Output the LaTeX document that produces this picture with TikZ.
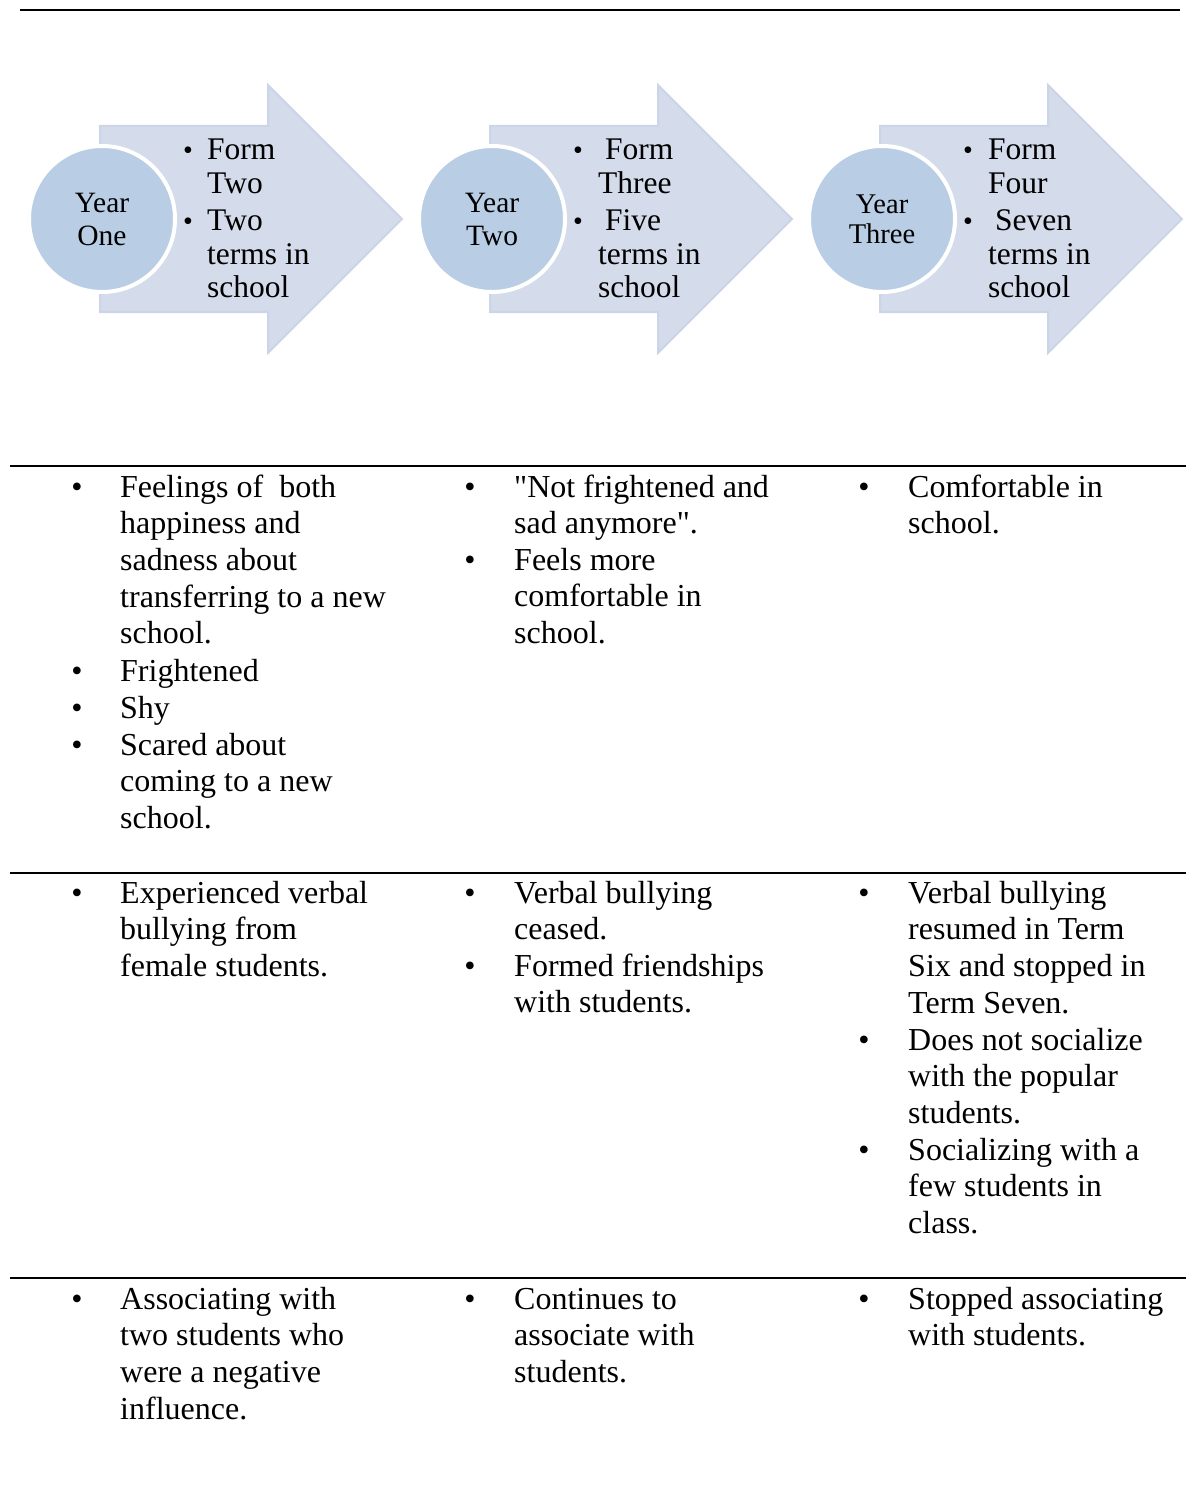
\documentclass[tikz,border=0pt]{standalone}
\usepackage{fontspec}
\setmainfont{Liberation Serif}[Ligatures=TeXOff]
\definecolor{arrowfill}{HTML}{D4DBEA}
\definecolor{arrowedge}{HTML}{CCD4E7}
\definecolor{circfill}{HTML}{B9CDE5}
\begin{document}
\begin{tikzpicture}[x=1pt,y=-1pt,
  arrowshape/.style={fill=arrowfill, draw=arrowedge, line width=2pt, line join=miter},
  yearcirc/.style={circle, fill=circfill, draw=white, line width=4pt, minimum size=146pt, inner sep=0pt, align=center, font=\fontsize{29.5}{33}\selectfont},
  arrtext/.style={anchor=base west, inner sep=0pt, align=left, font=\fontsize{31.5}{33.5}\selectfont},
  arrbullet/.style={anchor=base, inner sep=0pt, font=\fontsize{28}{33}\selectfont},
  celltext/.style={anchor=base west, inner sep=0pt, align=left, font=\fontsize{32}{36.7}\selectfont},
  cellbullet/.style={anchor=base, inner sep=0pt, font=\fontsize{32}{36.7}\selectfont},
  rule/.style={line width=1.8pt}]
\useasboundingbox (0,0) rectangle (1186,1495);

% top rule
\coordinate (t1) at (20,10);
\coordinate (t2) at (1180,10);
\draw[rule] (t1) -- (t2);

% arrows
\foreach \dx in {0, 390, 780}{
  \draw[arrowshape] (100+\dx,126) -- (268+\dx,126) -- (268+\dx,85) -- (402+\dx,219) -- (268+\dx,353) -- (268+\dx,312) -- (100+\dx,312) -- cycle;
}

% circles
\node[yearcirc] (y1) at (102,219) {Year\\One};
\node[yearcirc] (y2) at (492,219) {Year\\Two};
\node[yearcirc, font=\fontsize{28.5}{30}\selectfont] (y3) at (882,219) {Year\\Three};

% arrow texts (base anchor = last line)
\node[arrbullet] (b1a) at (188,160) {•};
\node[arrtext] (t1a) at (207,193.5) {Form\\Two};
\node[arrbullet] (b1b) at (188,231) {•};
\node[arrtext] (t1b) at (207,298) {Two\\terms in\\school};

\node[arrbullet] (b2a) at (578,160) {•};
\node[arrtext] (t2a) at (598,193.5) {\hspace*{7pt}Form\\Three};
\node[arrbullet] (b2b) at (578,231) {•};
\node[arrtext] (t2b) at (598,298) {\hspace*{7pt}Five\\terms in\\school};

\node[arrbullet] (b3a) at (968,160) {•};
\node[arrtext] (t3a) at (988,193.5) {Form\\Four};
\node[arrbullet] (b3b) at (968,231) {•};
\node[arrtext] (t3b) at (988,298) {\hspace*{7pt}Seven\\terms in\\school};

% table rules
\coordinate (r1a) at (10,466);  \coordinate (r1b) at (1186,466);
\coordinate (r2a) at (10,873);  \coordinate (r2b) at (1186,873);
\coordinate (r3a) at (10,1278); \coordinate (r3b) at (1186,1278);
\draw[rule] (r1a) -- (r1b);
\draw[rule] (r2a) -- (r2b);
\draw[rule] (r3a) -- (r3b);

% row 1
\node[cellbullet] (p11a) at (77,497) {•};
\node[celltext] (c11a) at (120,643.8) {Feelings of \ both\\happiness and\\sadness about\\transferring to a new\\school.};
\node[cellbullet] (p11b) at (77,681) {•};
\node[celltext] (c11b) at (120,681) {Frightened};
\node[cellbullet] (p11c) at (77,718) {•};
\node[celltext] (c11c) at (120,718) {Shy};
\node[cellbullet] (p11d) at (77,755) {•};
\node[celltext] (c11d) at (120,828.4) {Scared about\\coming to a new\\school.};

\node[cellbullet] (p12a) at (470,497) {•};
\node[celltext] (c12a) at (514,533.7) {"Not frightened and\\sad anymore".};
\node[cellbullet] (p12b) at (470,570) {•};
\node[celltext] (c12b) at (514,643.4) {Feels more\\comfortable in\\school.};

\node[cellbullet] (p13a) at (864,497) {•};
\node[celltext] (c13a) at (908,533.7) {Comfortable in\\school.};

% row 2
\node[cellbullet] (p21a) at (77,903) {•};
\node[celltext] (c21a) at (120,976.4) {Experienced verbal\\bullying from\\female students.};

\node[cellbullet] (p22a) at (470,903) {•};
\node[celltext] (c22a) at (514,939.7) {Verbal bullying\\ceased.};
\node[cellbullet] (p22b) at (470,976) {•};
\node[celltext] (c22b) at (514,1012.7) {Formed friendships\\with students.};

\node[cellbullet] (p23a) at (864,903) {•};
\node[celltext] (c23a) at (908,1013.1) {Verbal bullying\\resumed in Term\\Six and stopped in\\Term Seven.};
\node[cellbullet] (p23b) at (864,1050) {•};
\node[celltext] (c23b) at (908,1123.4) {Does not socialize\\with the popular\\students.};
\node[cellbullet] (p23c) at (864,1160) {•};
\node[celltext] (c23c) at (908,1233.4) {Socializing with a\\few students in\\class.};

% row 3
\node[cellbullet] (p31a) at (77,1309) {•};
\node[celltext] (c31a) at (120,1419.1) {Associating with\\two students who\\were a negative\\influence.};
\node[cellbullet] (p32a) at (470,1309) {•};
\node[celltext] (c32a) at (514,1382.4) {Continues to\\associate with\\students.};
\node[cellbullet] (p33a) at (864,1309) {•};
\node[celltext] (c33a) at (908,1345.7) {Stopped associating\\with students.};
\end{tikzpicture}
\end{document}
